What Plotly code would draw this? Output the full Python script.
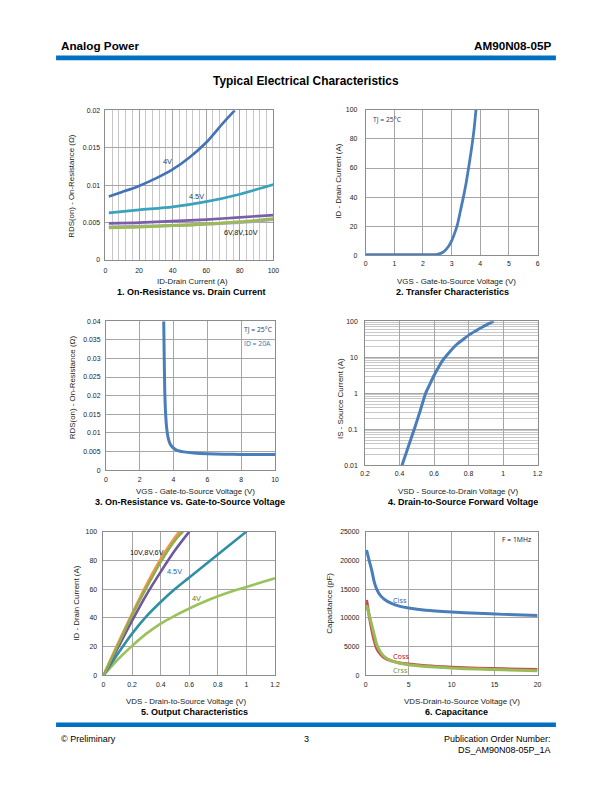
import plotly.graph_objects as go

W, H = 612, 792
def dx(px): return px / W
def dy(py): return 1 - py / H

# ---------------- DATA ----------------
# 1. On-Resistance vs Drain Current
id1 = [2, 10, 20, 30, 40, 50, 60, 70, 77]
r_4v = [0.0085, 0.0091, 0.0099, 0.0109, 0.0121, 0.0137, 0.0157, 0.0183, 0.0200]
id1b = [2, 20, 40, 60, 80, 100]
r_45v = [0.0063, 0.0067, 0.0071, 0.0078, 0.0088, 0.0101]
r_5v = [0.0049, 0.0050, 0.0052, 0.0054, 0.0057, 0.0060]
r_6v = [0.0044, 0.0045, 0.0046, 0.0048, 0.0050, 0.0054]
r_8v = [0.0043, 0.0044, 0.0046, 0.0048, 0.0051, 0.0055]

# 2. Transfer characteristics
vgs2 = [0, 1.0, 2.0, 2.3, 2.5, 2.7, 2.9, 3.0, 3.1, 3.2, 3.3, 3.4, 3.5, 3.6, 3.7, 3.78, 3.85]
id2 = [0.5, 0.5, 0.5, 0.6, 0.8, 2.2, 6.5, 10, 15, 21, 30, 39, 49, 61, 74, 86, 100]

# 3. On-Resistance vs VGS
vgs3 = [3.42, 3.45, 3.48, 3.52, 3.57, 3.63, 3.7, 3.8, 3.95, 4.2, 4.6, 5.2, 6.0, 7.0, 8.0, 9.0, 10.0]
r3 = [0.0400, 0.0300, 0.0215, 0.0160, 0.0125, 0.0100, 0.0083, 0.0070, 0.0061, 0.0053, 0.0049, 0.0046, 0.0044, 0.0043, 0.0042, 0.0042, 0.0042]

# 4. Source-drain forward voltage
vsd4 = [0.414, 0.45, 0.485, 0.52, 0.551, 0.575, 0.598, 0.625, 0.655, 0.69, 0.731, 0.77, 0.807, 0.845, 0.883, 0.915, 0.946]
is4 = [0.01, 0.032, 0.1, 0.33, 1.0, 1.75, 3.0, 5.2, 8.8, 14, 22.5, 31.5, 43, 55, 70, 84, 100]

# 5. Output characteristics
vds5 = [0, 0.1, 0.2, 0.3, 0.4, 0.5, 0.6, 0.7, 0.8, 0.9, 1.0, 1.1, 1.2]
vds_hi = [0, 0.1, 0.2, 0.3, 0.4, 0.5]
id_10v = [0, 22, 43, 63, 81, 96]
id_8v = [0, 21, 42, 61, 79, 94]
id_6v = [0, 19, 38, 56, 72, 87, 100]
id_45v = [0, 15, 29, 41, 51, 60, 68, 76, 84, 92, 100]
id_4v = [0, 11, 20.5, 29, 36, 41.5, 46.5, 51, 55, 58.5, 61.5, 64.5, 67.5]
vds_10v_end = 0.53
vds_8v_end = 0.555

# 6. Capacitance
vds6 = [0.1, 0.4, 0.7, 1.0, 1.3, 1.7, 2.2, 3.0, 4.0, 5.0, 7.0, 10.0, 13.0, 16.0, 20.0]
ciss = [21800, 20000, 18300, 16200, 14900, 13900, 13200, 12500, 12000, 11700, 11300, 11000, 10800, 10600, 10400]
coss = [13100, 10400, 8000, 6000, 4600, 3700, 3000, 2500, 2150, 1950, 1650, 1400, 1250, 1130, 1000]
crss = [12200, 10500, 8800, 7000, 5300, 4100, 3200, 2500, 2100, 1850, 1550, 1250, 1080, 950, 800]

BLUE = "#4a7ebb"
GRID = "#a6a6a6"
GRID_MINOR = "#c8c8c8"
AX = "#8c8c8c"
FONT = "Liberation Sans, Arial, sans-serif"
LBL = "Open Sans, sans-serif"

fig = go.Figure()

panels = {
    1: dict(x=(102.3, 273.3), y=(107.3, 258.3)),
    2: dict(x=(367.3, 542.3), y=(106.7, 253.7)),
    3: dict(x=(102.7, 275.0), y=(320.0, 470.3)),
    4: dict(x=(366.7, 542.3), y=(320.0, 465.3)),
    5: dict(x=(100.3, 275.0), y=(532.3, 677.3)),
    6: dict(x=(367.3, 542.3), y=(532.3, 677.3)),
}

def axname(i, k):
    return f"{k}{'' if i == 1 else i}"

def add(i, x, y, color, width=2.6, smoothing=0.8):
    fig.add_trace(go.Scatter(x=x, y=y, mode="lines", xaxis=axname(i, "x"), yaxis=axname(i, "y"),
                             line=dict(color=color, width=width, shape="spline", smoothing=smoothing),
                             showlegend=False, hoverinfo="skip"))

# panel 1
add(1, id1b, r_6v, "#b3a2c7", 3)
add(1, id1b, r_8v, "#9bbb59", 3)
add(1, id1b, r_5v, "#7a5fa8", 2.6)
add(1, id1b, r_45v, "#3aa3bb", 2.6)
add(1, id1, r_4v, "#4472b8", 2.6)
# panel 2
add(2, vgs2, id2, BLUE, 2.8, 0.6)
# panel 3
add(3, vgs3, r3, BLUE, 3, 0.5)
# panel 4
add(4, vsd4, is4, BLUE, 3, 0.6)
# panel 5
add(5, vds5, id_4v, "#9bc25a", 2.6)
add(5, vds5[:11], id_45v, "#2f8fa5", 2.6)
add(5, vds5[:7], id_6v, "#6f56a0", 2.6)
add(5, vds_hi + [vds_8v_end], id_8v + [100], "#8fae4e", 2.6)
add(5, vds_hi + [vds_10v_end], id_10v + [100], "#f79646", 2.6)
add(5, vds_hi + [vds_8v_end], id_8v + [100], "#8fae4e", 2.2)
# panel 6
add(6, vds6, ciss, BLUE, 3, 0.6)
add(6, vds6, coss, "#c0504d", 3, 0.6)
add(6, vds6, crss, "#9bbb59", 3, 0.6)

TICKSZ = 6.9

def xaxis_cfg(i, rng, dtick, tickvals=None, ticktext=None, minor=None, standoff=4):
    d = dict(domain=[dx(panels[i]["x"][0]), dx(panels[i]["x"][1])], range=rng,
             anchor=axname(i, "y"), showgrid=True, gridcolor=GRID, gridwidth=1,
             showline=True, linecolor=AX, linewidth=1, mirror=True, zeroline=False,
             ticks="", ticklen=0, tickfont=dict(family=FONT, size=TICKSZ, color="#222"), fixedrange=True,
             ticklabelstandoff=standoff)
    if tickvals is not None:
        d.update(tickmode="array", tickvals=tickvals, ticktext=ticktext)
    else:
        d.update(dtick=dtick, tick0=rng[0])
    if minor:
        d["minor"] = minor
    return d

def yaxis_cfg(i, rng, dtick, tickvals=None, ticktext=None, typ="linear", minor=None, standoff=5):
    d = dict(domain=[dy(panels[i]["y"][1]), dy(panels[i]["y"][0])], range=rng, type=typ,
             anchor=axname(i, "x"), showgrid=True, gridcolor=GRID, gridwidth=1,
             showline=True, linecolor=AX, linewidth=1, mirror=True, zeroline=False,
             ticks="", ticklen=0, tickfont=dict(family=FONT, size=TICKSZ, color="#222"), fixedrange=True,
             ticklabelstandoff=standoff)
    if tickvals is not None:
        d.update(tickmode="array", tickvals=tickvals, ticktext=ticktext)
    else:
        d.update(dtick=dtick, tick0=0)
    if minor:
        d["minor"] = minor
    return d

layout = {}
layout["xaxis"] = xaxis_cfg(1, [0, 100], 20, minor=dict(dtick=4, showgrid=True, gridcolor=GRID_MINOR), standoff=4)
layout["yaxis"] = yaxis_cfg(1, [0, 0.02], 0.005, tickvals=[0, 0.005, 0.01, 0.015, 0.02],
                            ticktext=["0", "0.005", "0.01", "0.015", "0.02"], standoff=3)
layout["xaxis2"] = xaxis_cfg(2, [0, 6], 1, standoff=1)
layout["yaxis2"] = yaxis_cfg(2, [0, 100], 20, standoff=6)
layout["xaxis3"] = xaxis_cfg(3, [0, 10], 2, standoff=3)
layout["yaxis3"] = yaxis_cfg(3, [0, 0.04], 0.005,
                             tickvals=[0, 0.005, 0.01, 0.015, 0.02, 0.025, 0.03, 0.035, 0.04],
                             ticktext=["0", "0.005", "0.01", "0.015", "0.02", "0.025", "0.03", "0.035", "0.04"],
                             standoff=3)
layout["xaxis4"] = xaxis_cfg(4, [0.2, 1.2], 0.2, tickvals=[0.2, 0.4, 0.6, 0.8, 1.0, 1.2],
                             ticktext=["0.2", "0.4", "0.6", "0.8", "1", "1.2"], standoff=2)
minor_log = [m * 10 ** e for e in (-2, -1, 0, 1) for m in range(2, 10)]
layout["yaxis4"] = yaxis_cfg(4, [-2, 2], None, tickvals=[0.01, 0.1, 1, 10, 100],
                             ticktext=["0.01", "0.1", "1", "10", "100"], typ="log",
                             minor=dict(tickvals=minor_log, showgrid=True, gridcolor=GRID_MINOR, ticks=""),
                             standoff=5)
layout["xaxis5"] = xaxis_cfg(5, [0, 1.2], 0.2, tickvals=[0, 0.2, 0.4, 0.6, 0.8, 1.0, 1.2],
                             ticktext=["0", "0.2", "0.4", "0.6", "0.8", "1", "1.2"], standoff=2)
layout["yaxis5"] = yaxis_cfg(5, [0, 100], 20, standoff=4)
layout["xaxis6"] = xaxis_cfg(6, [0, 20], 5, standoff=2)
layout["yaxis6"] = yaxis_cfg(6, [0, 25000], 5000, tickvals=[0, 5000, 10000, 15000, 20000, 25000],
                             ticktext=["0", "5000", "10000", "15000", "20000", "25000"], standoff=4)

annotations = []
def ptext(text, x, y, size=7.9, bold=False, xanchor="center", color="#222", font=FONT, angle=0):
    annotations.append(dict(text=f"<b>{text}</b>" if bold else text, x=dx(x), y=dy(y), xref="paper", yref="paper",
                            showarrow=False, xanchor=xanchor, yanchor="middle", textangle=angle,
                            font=dict(family=font, size=size, color=color)))

def dtext(i, text, x, y, color, size=6.8, font=LBL):
    annotations.append(dict(text=text, x=x, y=y, xref=axname(i, "x"), yref=axname(i, "y"),
                            showarrow=False, xanchor="center", yanchor="middle",
                            font=dict(family=font, size=size, color=color)))

# header / footer
ptext("Analog Power", 55, 42, 11.7, True, "left", "#000")
ptext("AM90N08-05P", 559, 42, 11.7, True, "right", "#000")
ptext("Typical Electrical Characteristics", 306.7, 78, 11.9, True, "center", "#000")
ptext("© Preliminary", 55, 741.5, 9, False, "left", "#000")
ptext("3", 306.7, 741.5, 9, False, "center", "#000")
ptext("Publication Order Number:", 558.5, 741.5, 9, False, "right", "#000")
ptext("DS_AM90N08-05P_1A", 558.5, 752.5, 9, False, "right", "#000")

# captions
CAP = 9
ptext("1. On-Resistance vs. Drain Current", 189.7, 291, CAP, True, color="#000")
ptext("2. Transfer Characteristics", 455.8, 290.7, CAP, True, color="#000")
ptext("3. On-Resistance vs. Gate-to-Source Voltage", 188.7, 502.7, CAP, True, color="#000")
ptext("4. Drain-to-Source Forward Voltage", 466, 502.7, CAP, True, color="#000")
ptext("5. Output Characteristics", 193.3, 714, CAP, True, color="#000")
ptext("6. Capacitance", 460, 714, CAP, True, color="#000")

# axis titles
ptext("ID-Drain Current (A)", 191.3, 279.5)
ptext("VGS - Gate-to-Source Voltage (V)", 459.3, 280)
ptext("VGS - Gate-to-Source Voltage (V)", 193.7, 491.7)
ptext("VSD - Source-to-Drain Voltage (V)", 461.3, 492)
ptext("VDS - Drain-to-Source Voltage (V)", 185.3, 703.3)
ptext("VDS-Drain-to-Source Voltage (V)", 465.7, 703.3)
ptext("RDS(on) - On-Resistance (Ω)", 68.3, 183.3, angle=-90)
ptext("ID - Drain Current (A)", 339.3, 179, angle=-90)
ptext("RDS(on) - On-Resistance (Ω)", 68.3, 386.5, angle=-90)
ptext("IS - Source Current (A)", 341.7, 398, angle=-90)
ptext("ID - Drain Current (A)", 73.3, 604, angle=-90)
ptext("Capacitance (pF)", 331, 605, angle=-90)

# in-plot labels
dtext(1, "4V", 37.1, 0.0131, "#1f3864", 7.3, FONT)
dtext(1, "4.5V", 54.1, 0.0085, "#1f3864", 7.3, FONT)
dtext(1, "6V,8V,10V", 80.5, 0.00366, "#111", 7.3, FONT)
dtext(2, "TJ = 25°C", 0.75, 93.6, "#1f3864")
dtext(3, "TJ = 25°C", 9.03, 0.0378, "#1f3864")
dtext(3, "ID = 20A", 8.94, 0.0341, "#2e75b6")
dtext(4, "TJ = 25°C", 0.361, 48, "#1f3864")
dtext(5, "10V,8V,6V", 0.307, 85.5, "#111", 7.3, FONT)
dtext(5, "4.5V", 0.50, 72.4, "#2e5fa0", 7.3, FONT)
dtext(5, "4V", 0.65, 53.3, "#5d7a2a", 7.3, FONT)
dtext(6, "F = 1MHz", 17.6, 23560, "#111")
dtext(6, "Ciss", 4.04, 13160, "#2e5fa0", 7.3)
dtext(6, "Coss", 4.1, 3280, "#c00000", 7.3)
dtext(6, "Crss", 4.0, 980, "#6f8f2f", 7.3)

shapes = [
    dict(type="rect", xref="paper", yref="paper", x0=dx(52), x1=dx(561), y0=dy(56.7), y1=dy(52),
         fillcolor="#0070c0", line=dict(width=0), layer="above"),
    dict(type="rect", xref="paper", yref="paper", x0=dx(52), x1=dx(561), y0=dy(729.5), y1=dy(725),
         fillcolor="#0070c0", line=dict(width=0), layer="above"),
]

fig.update_layout(width=W, height=H, margin=dict(l=0, r=0, t=0, b=0),
                  paper_bgcolor="white", plot_bgcolor="white",
                  annotations=annotations, shapes=shapes, showlegend=False, **layout)

fig.write_html("out.html", config={"displayModeBar": False},
               post_script="document.body.style.margin='0';document.body.style.overflow='hidden';")
